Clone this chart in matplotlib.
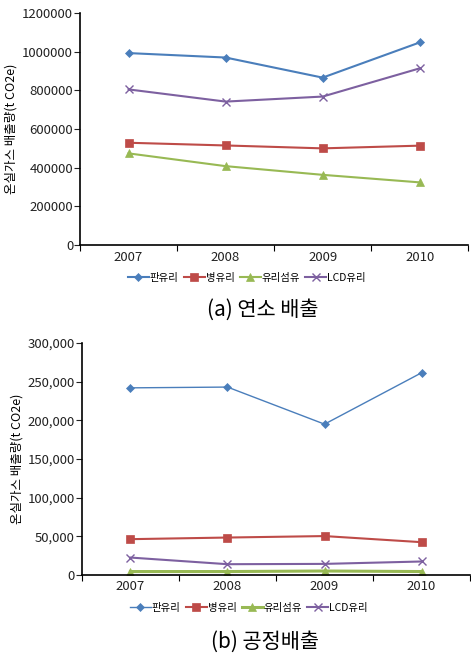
import matplotlib
matplotlib.use('Agg')
import matplotlib.pyplot as plt
import matplotlib.ticker as mticker
import numpy as np

plt.rcParams['font.family'] = ['Noto Sans CJK KR', 'DejaVu Sans']

years = ['2007', '2008', '2009', '2010']
series = ['판유리', '병유리', '유리섬유', 'LCD유리']

# (a) 연소 배출
comb_pan = [993000, 970000, 866000, 1048000]
comb_byeong = [529000, 515000, 500000, 514000]
comb_fiber = [474000, 408000, 363000, 324000]
comb_lcd = [805000, 742000, 768000, 914000]

# (b) 공정배출
proc_pan = [242000, 243000, 195000, 261500]
proc_byeong = [46200, 48300, 50200, 42300]
proc_fiber = [4300, 4300, 5000, 4300]
proc_lcd = [22400, 13800, 14200, 17300]

colors = ['#4a7ebb', '#be4b48', '#98b954', '#7d60a0']
markers = ['D', 's', '^', 'x']
msizes = [4.5, 6, 6, 5.5]

fig = plt.figure(figsize=(4.71, 6.54), dpi=100)
ax1 = fig.add_axes([0.170, 0.6254, 0.824, 0.3546])
ax2 = fig.add_axes([0.174, 0.121, 0.824, 0.3545])

x = np.arange(len(years)) + 0.5


def draw(ax, data, ymax, step, lws, fmt):
    for vals, c, m, ms, lw, name in zip(data, colors, markers, msizes, lws, series):
        ax.plot(x, vals, color=c, marker=m, markersize=ms, lw=lw,
                markeredgewidth=1.0 if m == 'x' else 0.5, label=name)
    ax.set_xlim(0, 4)
    ax.set_ylim(0, ymax)
    ax.set_yticks(np.arange(0, ymax + 1, step))
    ax.yaxis.set_major_formatter(fmt)
    ax.set_xticks(np.arange(0, 5))
    ax.set_xticklabels([])
    ax.set_xticks(x, minor=True)
    ax.set_xticklabels(years, minor=True)
    ax.tick_params(axis='x', which='minor', length=0, pad=4, labelsize=9.5, colors='#222222')
    ax.tick_params(axis='x', which='major', length=4, direction='out')
    ax.tick_params(axis='y', length=4, labelsize=9.5, pad=1, colors='#222222')
    for s in ['top', 'right']:
        ax.spines[s].set_visible(False)
    for s in ['left', 'bottom']:
        ax.spines[s].set_linewidth(1.2)
    ax.set_ylabel('온실가스 배출량(t CO2e)', fontsize=9, labelpad=3)
    ax.legend(loc='upper center', bbox_to_anchor=(0.43, -0.08), ncol=4,
              frameon=False, fontsize=7.5, handlelength=2.0, handletextpad=0.1,
              columnspacing=0.5)


draw(ax1, [comb_pan, comb_byeong, comb_fiber, comb_lcd], 1200000, 200000,
     [1.5, 1.5, 1.5, 1.5], mticker.FuncFormatter(lambda v, p: '%d' % v))
draw(ax2, [proc_pan, proc_byeong, proc_fiber, proc_lcd], 300000, 50000,
     [1.0, 1.5, 2.2, 1.5], mticker.FuncFormatter(lambda v, p: '{:,}'.format(int(v))))

fig.text(0.558, 1 - 310 / 654, '(a) 연소 배출', ha='center', va='center', fontsize=15)
fig.text(0.562, 1 - 642 / 654, '(b) 공정배출', ha='center', va='center', fontsize=15)

fig.savefig('out.png', dpi=100)
